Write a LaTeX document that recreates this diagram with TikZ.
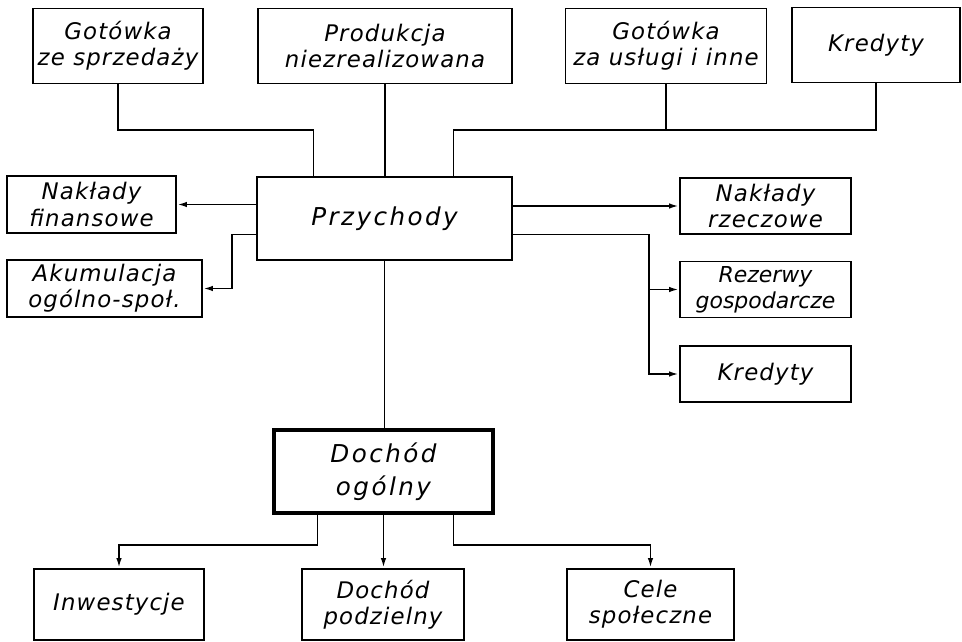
\documentclass[tikz,border=0pt]{standalone}
\usepackage{fontspec}
\setmainfont{DejaVu Sans}
\usetikzlibrary{arrows.meta,calc}

\tikzset{
	box/.style = {draw, line width = 1.1pt, align = center, inner sep = 1pt,
		font = \fontsize{13}{15}\selectfont\itshape\addfontfeatures{LetterSpace = 5}},
	bigbox/.style = {box, font = \fontsize{14}{19}\selectfont\itshape\addfontfeatures{LetterSpace = 10}},
	line/.style = {line width = 1.1pt}
}

\begin{document}
\begin{tikzpicture}[> = {Latex[length = 2mm, width = 1.1mm]}, x = 0.2mm, y = -0.2mm]

	\useasboundingbox (0, 0) rectangle (962, 642);

	% Sources of revenue
	
	\node [box, minimum width = 34mm, minimum height = 15mm] (gs) at (118, 46) {Gotówka\\ze sprzedaży};
	\node [box, minimum width = 50.8mm, minimum height = 15mm] (pn) at (385, 46) {Produkcja\\niezrealizowana};
	\node [box, minimum width = 40.2mm, minimum height = 15mm] (gu) at (666, 46) {Gotówka\\za usługi i inne};
	\node [box, minimum width = 33.6mm, minimum height = 15mm] (kr1) at (876, 45) {Kredyty};
	
	% Revenue and its uses
	
	\node [bigbox, minimum width = 51mm, minimum height = 16.6mm] (prz) at (384.5, 218.5) {Przychody};
	\node [box, minimum width = 33.8mm, minimum height = 11.4mm] (nf) at (91.5, 204.5) {Nakłady\\finansowe};
	\node [box, minimum width = 39mm, minimum height = 11.4mm] (ak) at (104.5, 288.5) {Akumulacja\\ogólno-społ.};
	\node [box, minimum width = 34.2mm, minimum height = 11.2mm] (nr) at (765.5, 206) {Nakłady\\rzeczowe};
	\node [box, minimum width = 34.2mm, minimum height = 11.2mm, font = \fontsize{12.5}{15}\selectfont\itshape] (rg) at (765.5, 289.5) {Rezerwy\\gospodarcze};
	\node [box, minimum width = 34.2mm, minimum height = 11.2mm] (kr2) at (765.5, 374) {Kredyty};
	
	% General income and its division
	
	\node [bigbox, line width = 2.4pt, minimum width = 43.8mm, minimum height = 16.6mm] (dog) at (383.5, 471.5) {Dochód\\ogólny};
	\node [box, minimum width = 34mm, minimum height = 14.2mm] (inw) at (119, 604.5) {Inwestycje};
	\node [box, minimum width = 32.4mm, minimum height = 14.2mm] (dp) at (383, 604.5) {Dochód\\podzielny};
	\node [box, minimum width = 33.4mm, minimum height = 14.2mm] (cs) at (650.5, 604.5) {Cele\\społeczne};
	
	% Upper connectors
	
	\coordinate (bus) at ($(prz.north) + (0, -46)$);
	\draw [line] (gs.south) |- ($(bus) + (-71, 0)$) -- ($(prz.north) + (-71, 0)$);
	\draw [line] (pn.south) -- (pn.south |- prz.north);
	\draw [line] (gu.south) |- ($(bus) + (69, 0)$) -- ($(prz.north) + (69, 0)$);
	\draw [line] (kr1.south) |- (gu.south |- bus);
	
	% Side connectors
	
	\draw [line, ->] (prz.west |- nf.east) -- (nf.east);
	\draw [line, ->] ($(prz.west) + (0, 16)$) -| ($(ak.east) + (29, 0)$) -- (ak.east);
	\draw [line, ->] (prz.east |- nr.west) -- (nr.west);
	\draw [line, ->] ($(prz.east) + (0, 16)$) -| ($(kr2.west) + (-30, 0)$) -- (kr2.west);
	\draw [line, ->] ($(rg.west) + (-30, 0)$) -- (rg.west);
	
	% Lower connectors
	
	\draw [line] (prz.south) -- (prz.south |- dog.north);
	\draw [line, ->] ($(dog.south) + (-66, 0)$) -- ++(0, 30) -| (inw.north);
	\draw [line, ->] (dog.south) -- (dog.south |- dp.north);
	\draw [line, ->] ($(dog.south) + (70, 0)$) -- ++(0, 30) -| (cs.north);

\end{tikzpicture}
\end{document}
